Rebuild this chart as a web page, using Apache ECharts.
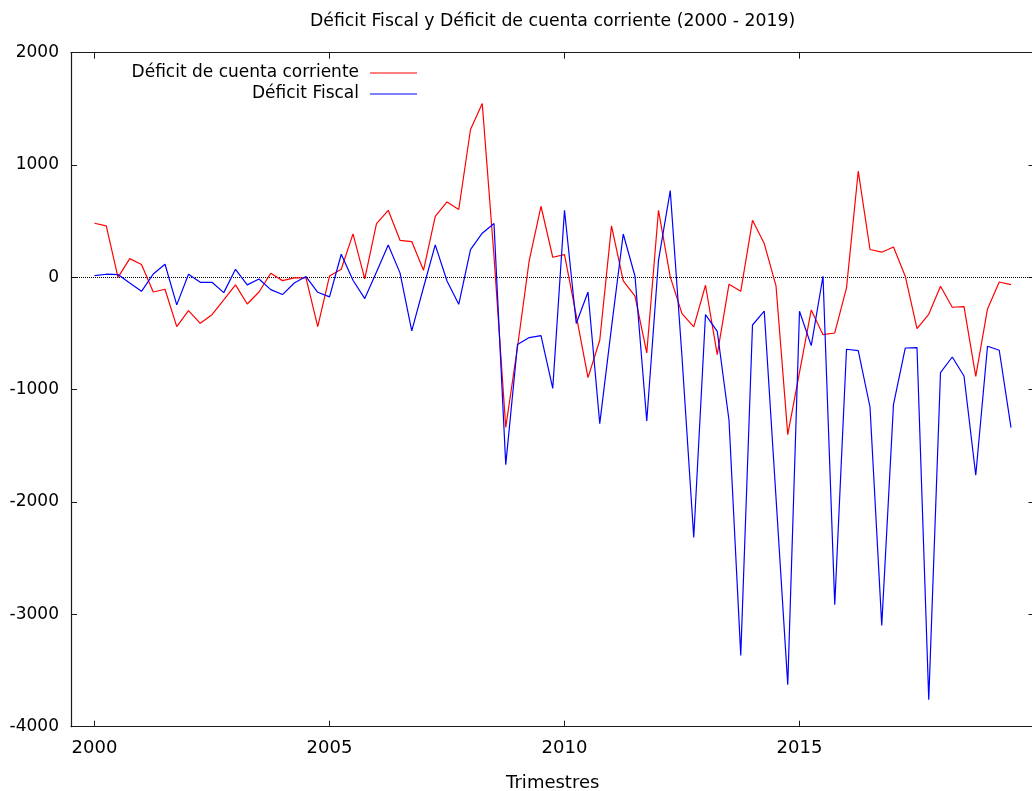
<!DOCTYPE html>
<html>
<head>
<meta charset="utf-8">
<title>Déficit Fiscal y Déficit de cuenta corriente (2000 - 2019)</title>
<script src="https://cdn.jsdelivr.net/npm/echarts@6/dist/echarts.min.js"></script>
<style>
  html, body { margin: 0; padding: 0; background: #fff; }
  #chart { width: 1032px; height: 791px; }
</style>
</head>
<body>
<div id="chart"></div>
<script>
// Quarterly periods, 2000 Q1 to 2019 Q3
const trimestres = [
  '2000T1','2000T2','2000T3','2000T4','2001T1','2001T2','2001T3','2001T4',
  '2002T1','2002T2','2002T3','2002T4','2003T1','2003T2','2003T3','2003T4',
  '2004T1','2004T2','2004T3','2004T4','2005T1','2005T2','2005T3','2005T4',
  '2006T1','2006T2','2006T3','2006T4','2007T1','2007T2','2007T3','2007T4',
  '2008T1','2008T2','2008T3','2008T4','2009T1','2009T2','2009T3','2009T4',
  '2010T1','2010T2','2010T3','2010T4','2011T1','2011T2','2011T3','2011T4',
  '2012T1','2012T2','2012T3','2012T4','2013T1','2013T2','2013T3','2013T4',
  '2014T1','2014T2','2014T3','2014T4','2015T1','2015T2','2015T3','2015T4',
  '2016T1','2016T2','2016T3','2016T4','2017T1','2017T2','2017T3','2017T4',
  '2018T1','2018T2','2018T3','2018T4','2019T1','2019T2','2019T3'
];

// Déficit de cuenta corriente
const cuentaCorriente = [
  482, 458, 0, 167, 114, -130, -106, -438,
  -296, -409, -332, -201, -67, -237, -130, 37,
  -29, -5, -5, -438, 12, 72, 387, -14,
  479, 597, 330, 319, 63, 544, 671, 604,
  1316, 1548, 188, -1335, -620, 152, 633, 179,
  203, -340, -892, -560, 458, -32, -168, -673,
  597, 4, -323, -441, -70, -688, -61, -124,
  508, 301, -75, -1400, -845, -290, -510, -495,
  -94, 945, 248, 224, 271, 10, -456, -329,
  -79, -266, -260, -881, -281, -41, -64
];

// Déficit Fiscal
const deficitFiscal = [
  16, 28, 25, -50, -124, 30, 117, -245,
  28, -44, -44, -136, 72, -67, -14, -109,
  -153, -50, 7, -133, -174, 206, -26, -189,
  48, 289, 40, -477, -90, 289, -32, -240,
  247, 393, 479, -1667, -598, -536, -518, -988,
  597, -411, -130, -1302, -445, 386, 10, -1279,
  152, 773, -709, -2315, -331, -480, -1272, -3365,
  -424, -300, -1960, -3626, -302, -608, 10, -2914,
  -640, -652, -1154, -3098, -1130, -629, -625, -3760,
  -848, -709, -878, -1762, -613, -649, -1337
];

const xTicks = [2000, 2005, 2010, 2015];
const yTicks = [-4000, -3000, -2000, -1000, 0, 1000, 2000];

const titulo = 'Déficit Fiscal y Déficit de cuenta corriente (2000 - 2019)';
const nombreCC = 'Déficit de cuenta corriente';
const nombreDF = 'Déficit Fiscal';
const ejeX = 'Trimestres';

// Period label -> decimal year (quarter start)
function aAnio(t) {
  const y = parseInt(t.slice(0, 4), 10);
  const q = parseInt(t.slice(5), 10);
  return y + (q - 1) / 4;
}
const xs = trimestres.map(aAnio);
const pares = (vals) => vals.map((v, i) => [xs[i], v]);

const FONT = 'DejaVu Sans';
const axisLineStyle = { color: '#1a1a1a', width: 1.2 };
const tickStyle = { color: '#1a1a1a', width: 1 };

const chart = echarts.init(document.getElementById('chart'), null, { renderer: 'canvas' });

const legendBase = {
  orient: 'vertical',
  align: 'right',
  right: 615,
  padding: 0,
  icon: 'rect',
  itemWidth: 47,
  itemHeight: 1.2,
  selectedMode: false,
  textStyle: { fontFamily: FONT, fontSize: 17, color: '#000', padding: [0, 6, 0, 0] }
};

chart.setOption({
  animation: false,
  backgroundColor: '#ffffff',
  title: {
    text: titulo,
    left: 310,
    top: 13.5,
    padding: 0,
    textStyle: { fontFamily: FONT, fontSize: 17.3, fontWeight: 'normal', color: '#000' }
  },
  legend: [
    Object.assign({}, legendBase, { data: [nombreCC], top: 64.5 }),
    Object.assign({}, legendBase, { data: [nombreDF], top: 85.5 })
  ],
  grid: {
    left: 71,
    top: 52.7,
    width: 963.5,
    height: 674,
    containLabel: false,
    outerBoundsMode: 'none'
  },
  xAxis: [
    {
      type: 'value',
      min: 1999.5,
      max: 2020,
      name: ejeX,
      nameLocation: 'middle',
      nameGap: 48,
      nameTextStyle: { fontFamily: FONT, fontSize: 18, color: '#000' },
      axisLine: { show: true, onZero: false, lineStyle: axisLineStyle },
      axisTick: { show: true, inside: true, length: 6, lineStyle: tickStyle, customValues: xTicks },
      axisLabel: {
        show: true, margin: 13, fontFamily: FONT, fontSize: 18, color: '#000',
        customValues: xTicks, formatter: (v) => String(v)
      },
      splitLine: { show: false }
    },
    {
      type: 'value',
      position: 'top',
      min: 1999.5,
      max: 2020,
      axisLine: { show: true, onZero: false, lineStyle: axisLineStyle },
      axisTick: { show: true, inside: true, length: 6, lineStyle: tickStyle, customValues: xTicks },
      axisLabel: { show: false },
      splitLine: { show: false }
    }
  ],
  yAxis: [
    {
      type: 'value',
      min: -4000,
      max: 2000,
      interval: 1000,
      axisLine: { show: true, onZero: false, lineStyle: axisLineStyle },
      axisTick: { show: true, inside: true, length: 6, lineStyle: tickStyle },
      axisLabel: {
        show: true, margin: 12, fontFamily: FONT, fontSize: 17, color: '#000',
        customValues: yTicks, formatter: (v) => String(v)
      },
      splitLine: { show: false }
    },
    {
      type: 'value',
      position: 'right',
      min: -4000,
      max: 2000,
      interval: 1000,
      axisLine: { show: true, onZero: false, lineStyle: axisLineStyle },
      axisTick: { show: true, inside: true, length: 6, lineStyle: tickStyle },
      axisLabel: { show: false },
      splitLine: { show: false }
    }
  ],
  series: [
    {
      name: nombreCC,
      type: 'line',
      data: pares(cuentaCorriente),
      showSymbol: false,
      symbol: 'none',
      color: '#ff0000',
      lineStyle: { color: '#ff0000', width: 1.2 },
      z: 3,
      markLine: {
        silent: true,
        symbol: ['none', 'none'],
        label: { show: false },
        lineStyle: { color: '#000', type: 'dotted', width: 1 },
        data: [{ yAxis: 0 }],
        z: 1
      }
    },
    {
      name: nombreDF,
      type: 'line',
      data: pares(deficitFiscal),
      showSymbol: false,
      symbol: 'none',
      color: '#0000ff',
      lineStyle: { color: '#0000ff', width: 1.2 },
      z: 4
    }
  ]
});
</script>
</body>
</html>
